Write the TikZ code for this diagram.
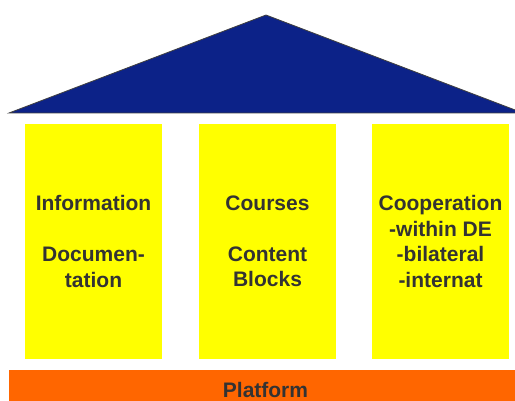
\documentclass[tikz,border=0pt]{standalone}
\usepackage{fontspec}
\setmainfont{Liberation Sans}
\definecolor{roofblue}{HTML}{0C2288}
\definecolor{pillaryellow}{HTML}{FFFF00}
\definecolor{platorange}{HTML}{FF6600}
\definecolor{textgray}{HTML}{333333}
\begin{document}
\begin{tikzpicture}[x=1pt,y=-1pt,
  pillar/.style={rectangle, fill=pillaryellow, draw=none, minimum width=137pt, minimum height=235pt, inner sep=0pt},
  pillartext/.style={align=center, text=textgray, inner sep=0pt, font=\fontsize{21}{25.5}\selectfont\bfseries},
  roofstyle/.style={fill=roofblue, draw=black!75, line width=0.8pt, line join=miter}]
\clip (0,0) rectangle (515,401);
\fill[white] (0,0) rectangle (515,401);
% roof
\filldraw[roofstyle] (9,113) -- (266,15) -- (523,113) -- cycle;
% pillars
\node[pillar] (p1) at (93.5,241.5) {};
\node[pillar] (p2) at (267.5,241.5) {};
\node[pillar] (p3) at (440.5,241.5) {};
\node[pillartext] (t1) at (p1.center) {Information\\\mbox{}\\Documen-\\tation};
\node[pillartext] (t2) at (p2.center) {Courses\\\mbox{}\\Content\\Blocks};
\node[pillartext] (t3) at (p3.center) {Cooperation\\-within DE\\-bilateral\\-internat};
% platform
\fill[platorange] (9,370) rectangle (522,405);
\node[pillartext, anchor=base] (plat) at (265.5,397) {Platform};
\end{tikzpicture}
\end{document}
